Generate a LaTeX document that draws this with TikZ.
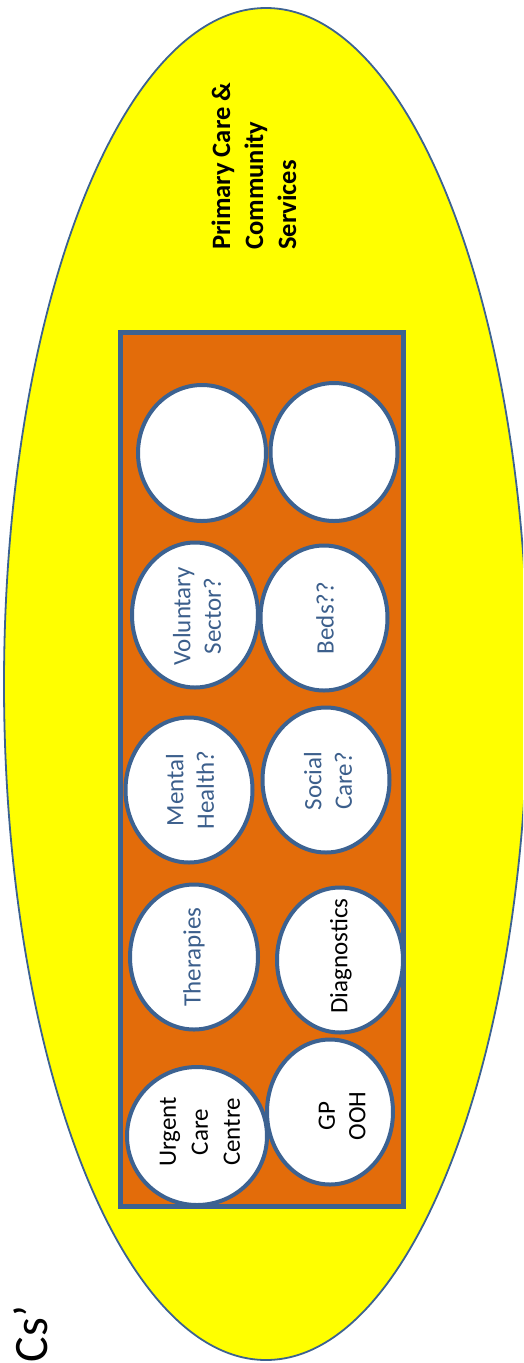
\documentclass[tikz,border=0pt]{standalone}
\usepackage{fontspec}
\setmainfont{Carlito}
\usetikzlibrary{shapes.geometric}
\definecolor{outl}{RGB}{60,98,145}
\definecolor{txtblue}{RGB}{60,95,140}
\definecolor{orng}{RGB}{227,108,10}
\definecolor{yel}{RGB}{255,255,0}
\tikzset{
  bubble/.style={ellipse, draw=outl, line width=4pt, fill=white, inner sep=0pt},
  btext/.style={rotate=90, align=center, font=\fontsize{25}{30.5}\selectfont, inner sep=0pt},
}
\begin{document}
\begin{tikzpicture}[x=1pt,y=-1pt]
\useasboundingbox (0,0) rectangle (523,1363);
\begin{scope}
\clip (0,0) rectangle (523,1363);
\node[ellipse, draw=outl, line width=1.8pt, fill=yel, minimum width=524pt, minimum height=1352pt, inner sep=0pt] (outer) at (266,684) {};
\end{scope}
\node[rotate=90, align=left, anchor=west, font=\bfseries\fontsize{26.5}{33}\selectfont, inner sep=0pt] (pc) at (254,250) {Primary Care \&\\Community\\Services};
\node[draw=outl, line width=5pt, fill=orng, minimum width=283pt, minimum height=874pt, inner sep=0pt] (box) at (262,769) {};
% bubbles
\node[bubble, minimum width=128pt, minimum height=136pt] (b1) at (202,453) {};
\node[bubble, minimum width=127pt, minimum height=138pt] (b2) at (334,452) {};
\node[bubble, minimum width=126pt, minimum height=145pt] (vs) at (195,615) {};
\node[bubble, minimum width=127pt, minimum height=145pt] (beds) at (324,618) {};
\node[bubble, minimum width=127pt, minimum height=145pt] (mh) at (189,790) {};
\node[bubble, minimum width=127pt, minimum height=145pt] (sc) at (326,780) {};
\node[bubble, minimum width=128pt, minimum height=145pt] (th) at (194,957) {};
\node[bubble, minimum width=126pt, minimum height=145pt] (dg) at (340,960) {};
\node[bubble, minimum width=140pt, minimum height=138pt] (ucc) at (197,1136) {};
\node[bubble, minimum width=126pt, minimum height=145pt] (gp) at (330,1112) {};
% texts
\node[btext, text=txtblue] (tvs) at (197,616) {Voluntary\\Sector?};
\node[btext, text=txtblue] (tbeds) at (325,618) {Beds??};
\node[btext, text=txtblue] (tmh) at (190,790) {Mental\\Health?};
\node[btext, text=txtblue] (tsc) at (328,781) {Social\\Care?};
\node[btext, text=txtblue] (tth) at (194,957) {Therapies};
\node[btext, text=black] (tdg) at (341,956) {Diagnostics};
\node[btext, text=black, font=\fontsize{25}{32}\selectfont] (tucc) at (200,1132) {Urgent\\Care\\Centre};
\node[btext, text=black] (tgp) at (342,1116) {GP\\OOH};
\node[rotate=90, font=\fontsize{48}{56}\selectfont, inner sep=0pt] (cs) at (31,1334) {Cs’};
\end{tikzpicture}
\end{document}
